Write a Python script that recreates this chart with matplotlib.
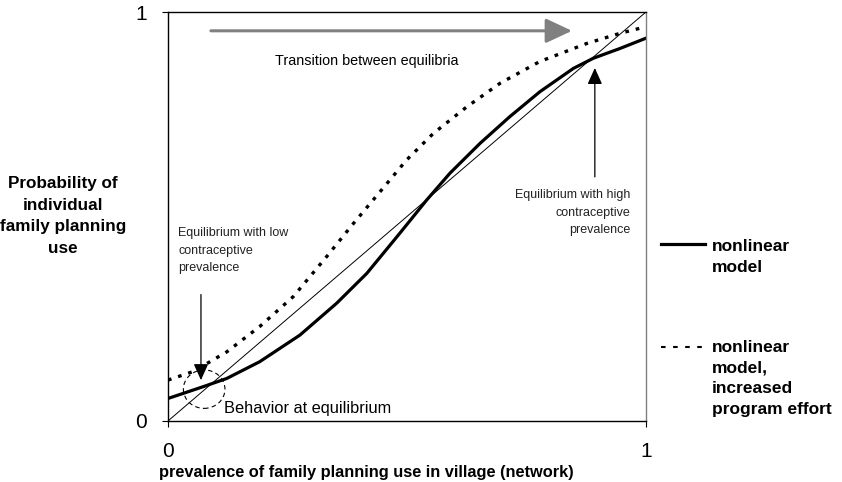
import matplotlib.pyplot as plt
from matplotlib.patches import Ellipse
from matplotlib.lines import Line2D

# curve readings (prevalence in village -> probability of individual use)
x_base = [0, 0.074, 0.123, 0.192, 0.276, 0.353, 0.416, 0.485, 0.541, 0.590,
          0.653, 0.715, 0.778, 0.848, 0.890, 0.946, 1.0]
y_base = [0.055, 0.084, 0.104, 0.145, 0.210, 0.288, 0.361, 0.459, 0.540, 0.606,
          0.679, 0.744, 0.805, 0.862, 0.887, 0.911, 0.936]

x_effort = [0, 0.053, 0.123, 0.192, 0.262, 0.332, 0.388, 0.444, 0.499, 0.555,
            0.625, 0.695, 0.778, 0.876, 0.946, 1.0]
y_effort = [0.100, 0.121, 0.169, 0.231, 0.304, 0.402, 0.483, 0.561, 0.638, 0.703,
            0.768, 0.826, 0.879, 0.923, 0.948, 0.964]

diag = [0, 1]
ticks = [0, 1]
tick_labels = ["0", "1"]

low_eq = (0.069, 0.093)
high_eq = (0.893, 0.870)

plt.rcParams["font.family"] = ["Liberation Sans", "DejaVu Sans"]

fig = plt.figure(figsize=(8.42, 4.82), dpi=100)
ax = fig.add_axes([0.1995, 0.1266, 0.5677, 0.8485])

ax.plot(diag, diag, color="black", lw=0.7)
ax.plot(x_base, y_base, color="black", lw=2.3, solid_joinstyle="round")
ax.plot(x_effort, y_effort, color="black", lw=2.4, linestyle=(0, (1.1, 2.1)))

# transition arrow
ax.annotate("", xy=(0.851, 0.954), xytext=(0.084, 0.954),
            arrowprops=dict(arrowstyle="-|>,head_length=1.6,head_width=0.75",
                            color="#808080", lw=2.2))
ax.text(0.416, 0.880, "Transition between equilibria", fontsize=10.4,
        ha="center", va="center")

# low equilibrium
ax.annotate("", xy=low_eq, xytext=(low_eq[0], 0.316),
            arrowprops=dict(arrowstyle="-|>,head_length=1.0,head_width=0.45",
                            color="black", lw=0.9))
ax.text(0.021, 0.474, "Equilibrium with low\ncontraceptive\nprevalence", fontsize=9,
        ha="left", va="top", color="#222222", linespacing=1.6)
ax.add_patch(Ellipse((0.0757, 0.0778), 0.087, 0.094, fill=False, ls=(0, (4, 3)),
                     lw=0.8, color="black"))
ax.text(0.117, 0.031, "Behavior at equilibrium", fontsize=11.8, ha="left", va="center")

# high equilibrium
ax.annotate("", xy=high_eq, xytext=(high_eq[0], 0.590),
            arrowprops=dict(arrowstyle="-|>,head_length=1.0,head_width=0.45",
                            color="black", lw=0.9))
ax.text(0.968, 0.566, "Equilibrium with high\ncontraceptive\nprevalence", fontsize=9,
        ha="right", va="top", color="#222222", linespacing=1.6)

ax.set_xlim(0, 1)
ax.set_ylim(0, 1)
ax.set_xticks(ticks)
ax.set_xticklabels(tick_labels, fontsize=15)
ax.set_yticks(ticks)
ax.set_yticklabels(tick_labels, fontsize=15)
ax.tick_params(axis="x", direction="out", length=4, pad=11)
ax.tick_params(axis="y", direction="out", length=4, pad=11)
ax.spines["right"].set_color("#808080")
for s in ax.spines.values():
    s.set_linewidth(1.0)

fig.text(366 / 842, 1 - 473 / 482, "prevalence of family planning use in village (network)",
         fontsize=11.8, fontweight="bold", ha="center", va="center")
fig.text(63 / 842, 1 - 216 / 482, "Probability of\nindividual\nfamily planning\nuse",
         fontsize=12.3, fontweight="bold", ha="center", va="center", linespacing=1.58)

# legend drawn beside the axes
fig.add_artist(Line2D([661 / 842, 705 / 842], [1 - 244 / 482] * 2, color="black", lw=2.3))
fig.text(712 / 842, 1 - 239 / 482, "nonlinear\nmodel", fontsize=12.5, fontweight="bold",
         ha="left", va="top", linespacing=1.52)
fig.add_artist(Line2D([661 / 842, 705 / 842], [1 - 347 / 482] * 2, color="black", lw=1.5,
                      ls=(0, (2.2, 3.6))))
fig.text(712 / 842, 1 - 340 / 482, "nonlinear\nmodel,\nincreased\nprogram effort",
         fontsize=12.5, fontweight="bold", ha="left", va="top", linespacing=1.47)

fig.savefig("out.png", dpi=100)
